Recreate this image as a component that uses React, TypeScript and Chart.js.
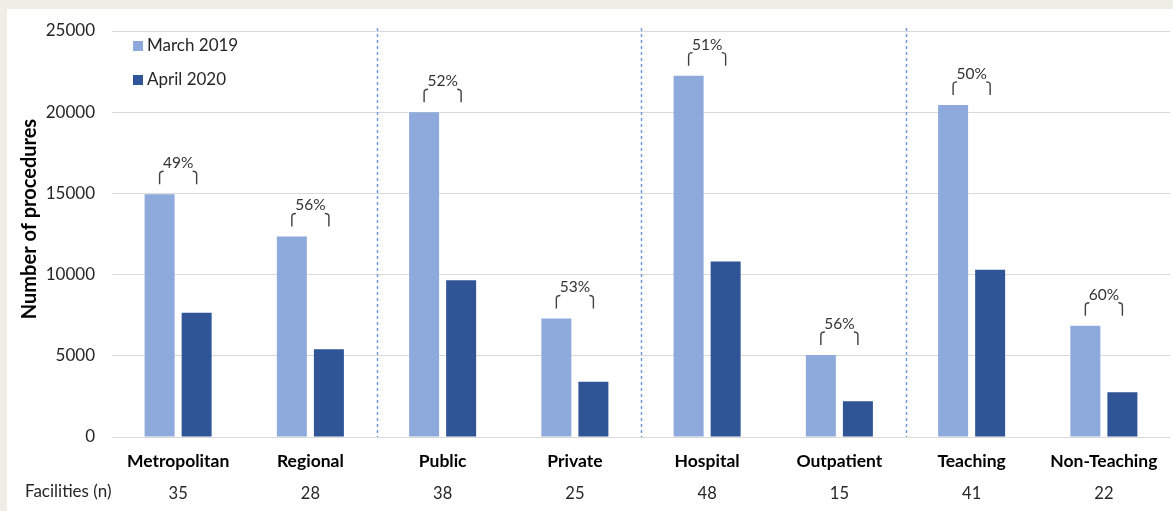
import React, { useEffect, useRef } from "react";
import { Chart, registerables } from "chart.js";

Chart.register(...registerables);

const categories = ["Metropolitan", "Regional", "Public", "Private", "Hospital", "Outpatient", "Teaching", "Non-Teaching"];
const facilities = ["35", "28", "38", "25", "48", "15", "41", "22"];
const march2019 = [14950, 12350, 20000, 7300, 22250, 5050, 20450, 6850];
const april2020 = [7650, 5400, 9650, 3400, 10800, 2200, 10300, 2750];
const reductionLabels = ["49%", "56%", "52%", "53%", "51%", "56%", "50%", "60%"];
const seriesNames = ["March 2019", "April 2020"];
const separatorAfter = [1, 3, 5];

const LIGHT = "#8EA9DB";
const DARK = "#2F5597";
const FONT = "Lato, 'Open Sans', sans-serif";

const overlayPlugin = {
  id: "overlay",
  afterDatasetsDraw(chart: any) {
    const ctx = chart.ctx;
    const x = chart.scales.x;
    const y = chart.scales.y;
    const area = chart.chartArea;
    // dashed separators
    ctx.save();
    ctx.strokeStyle = "#6F9AE0";
    ctx.lineWidth = 1.5;
    ctx.setLineDash([3, 3]);
    separatorAfter.forEach((i) => {
      const px = Math.round((x.getPixelForTick(i) + x.getPixelForTick(i + 1)) / 2) + 0.5;
      ctx.beginPath();
      ctx.moveTo(px, area.top - 3);
      ctx.lineTo(px, area.bottom);
      ctx.stroke();
    });
    ctx.restore();
    // brackets
    const m0 = chart.getDatasetMeta(0);
    const m1 = chart.getDatasetMeta(1);
    ctx.save();
    ctx.strokeStyle = "#404040";
    ctx.lineWidth = 1.4;
    ctx.fillStyle = "#333333";
    ctx.font = `15.5px ${FONT}`;
    ctx.textAlign = "center";
    ctx.textBaseline = "middle";
    categories.forEach((_, i) => {
      const xl = m0.data[i].x;
      const xr = m1.data[i].x;
      const top = y.getPixelForValue(Math.max(march2019[i], april2020[i]));
      const yb = top - 10;
      const yt = top - 23;
      ctx.beginPath();
      ctx.moveTo(xl, yb);
      ctx.lineTo(xl, yt + 3);
      ctx.quadraticCurveTo(xl, yt, xl + 4, yt);
      ctx.stroke();
      ctx.beginPath();
      ctx.moveTo(xr, yb);
      ctx.lineTo(xr, yt + 3);
      ctx.quadraticCurveTo(xr, yt, xr - 4, yt);
      ctx.stroke();
      ctx.fillText(reductionLabels[i], (xl + xr) / 2, top - 31);
    });
    ctx.restore();
  },
  afterDraw(chart: any) {
    const ctx = chart.ctx;
    const area = chart.chartArea;
    ctx.save();
    // legend
    ctx.font = `17px ${FONT}`;
    ctx.textBaseline = "middle";
    ctx.textAlign = "left";
    const colors = [LIGHT, DARK];
    seriesNames.forEach((name, k) => {
      const cy = 46 + k * 34;
      ctx.fillStyle = colors[k];
      ctx.fillRect(area.left + 21, cy - 5, 10, 10);
      ctx.fillStyle = "#262626";
      ctx.fillText(name, area.left + 35, cy);
    });
    // y title
    ctx.save();
    ctx.translate(30, 219);
    ctx.rotate(-Math.PI / 2);
    ctx.textAlign = "center";
    ctx.font = `bold 20px ${FONT}`;
    ctx.fillStyle = "#000";
    ctx.fillText("Number of procedures", 0, 0);
    ctx.restore();
    // facilities label
    ctx.font = `17px ${FONT}`;
    ctx.fillStyle = "#262626";
    ctx.textAlign = "left";
    ctx.fillText("Facilities (n)", 25, 492);
    ctx.restore();
  },
};

export default function App() {
  const ref = useRef<HTMLCanvasElement>(null);
  useEffect(() => {
    if (!ref.current) return;
    const chart = new Chart(ref.current, {
      type: "bar",
      data: {
        labels: categories,
        datasets: [
          { label: seriesNames[0], data: march2019, backgroundColor: LIGHT, categoryPercentage: 0.56, barPercentage: 0.81 },
          { label: seriesNames[1], data: april2020, backgroundColor: DARK, categoryPercentage: 0.56, barPercentage: 0.81 },
        ],
      },
      options: {
        responsive: false,
        animation: false,
        devicePixelRatio: 1,
        layout: { padding: { top: 31, right: 3, left: 0, bottom: 0 } },
        plugins: { legend: { display: false }, tooltip: { enabled: false } },
        scales: {
          x: {
            grid: { display: false },
            border: { display: false },
            ticks: { padding: 6, color: "#000", font: { family: FONT, size: 17.5, weight: "bold" } },
            afterFit: (s: any) => { s.height = 33; },
          },
          x2: {
            type: "category",
            position: "bottom",
            labels: facilities,
            grid: { display: false },
            border: { display: false },
            ticks: { padding: 6, color: "#262626", font: { family: FONT, size: 16.5 } },
            afterFit: (s: any) => { s.height = 41; },
          },
          y: {
            min: 0,
            max: 25000,
            ticks: {
              stepSize: 5000,
              padding: 17,
              color: "#262626",
              font: { family: FONT, size: 17 },
              callback: (v: any) => String(v),
            },
            grid: { color: "#D9D9D9", lineWidth: 1, drawTicks: false },
            border: { display: false },
            afterFit: (s: any) => { s.width = 112; },
          },
        },
      },
      plugins: [overlayPlugin],
    } as any);
    return () => chart.destroy();
  }, []);
  return (
    <div style={{ position: "fixed", left: 0, top: 0, width: 1173, height: 511, background: "#EFEEE4" }}>
      <div style={{ position: "absolute", left: 7, top: 9, right: 0, bottom: 0, background: "#FFFFFF" }} />
      <canvas ref={ref} width={1173} height={511} style={{ position: "absolute", left: 0, top: 0, width: 1173, height: 511 }} />
    </div>
  );
}
